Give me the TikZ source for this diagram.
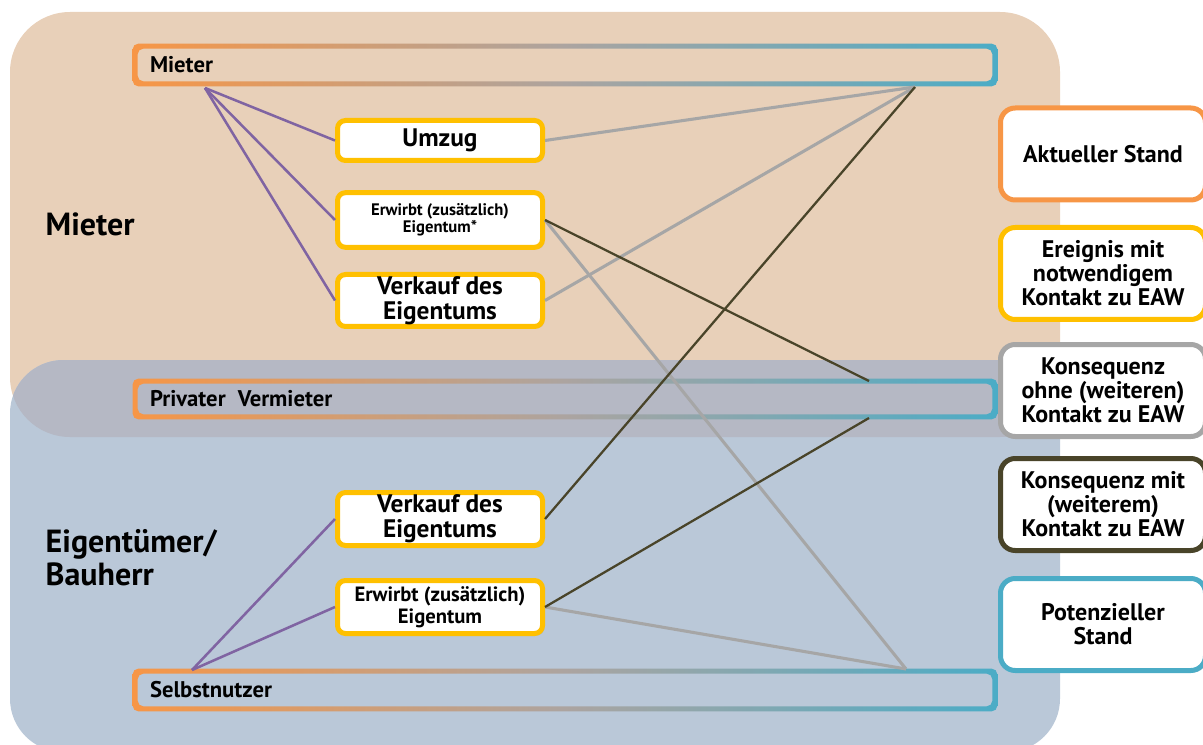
\documentclass[tikz,border=0pt]{standalone}
\usepackage{fontspec}
\setmainfont{PT Sans}
\usetikzlibrary{calc,shadows}

\definecolor{bgbeige}{RGB}{232,208,185}
\definecolor{bgblau}{RGB}{186,200,216}
\definecolor{bgmitte}{RGB}{181,184,196}
\definecolor{standorange}{RGB}{247,150,70}
\definecolor{standgrau}{RGB}{172,164,160}
\definecolor{standblau}{RGB}{75,172,198}
\definecolor{ereignisgelb}{RGB}{255,192,0}
\definecolor{ohnegrau}{RGB}{166,166,166}
\definecolor{mitoliv}{RGB}{73,68,41}
\definecolor{linielila}{RGB}{128,100,162}

\tikzset{
  ereignis/.style={draw=ereignisgelb, line width=3.75pt, fill=white, rounded corners=6pt,
    minimum width=153.75pt, align=center, inner sep=0pt,
    drop shadow={opacity=0.25, shadow xshift=1.5pt, shadow yshift=-1.5pt}},
  legende/.style={fill=white, line width=3.75pt, rounded corners=11pt,
    minimum width=153.75pt, minimum height=69pt, align=center, inner sep=0pt,
    font=\bfseries\fontsize{18}{18}\selectfont,
    drop shadow={opacity=0.25, shadow xshift=1.5pt, shadow yshift=-1.5pt}},
  band/.style={minimum width=648pt, text width=622.5pt, inner xsep=12.75pt, inner ysep=0pt,
    align=left, font=\bfseries\fontsize{17}{18}\selectfont},
  gruppe/.style={anchor=west, align=left, font=\bfseries\fontsize{24}{25}\selectfont},
  lila/.style={draw=linielila, line width=1.9pt},
  grau/.style={draw=ohnegrau, line width=2.3pt},
  oliv/.style={draw=mitoliv, line width=1.7pt}
}

\newcommand{\bandrahmen}[1]{%
  \shade[left color=standorange, right color=standblau, middle color=standgrau,
    even odd rule, rounded corners=4pt]
    (#1.north west) rectangle (#1.south east)
    ($(#1.north west)+(5,5)$) rectangle ($(#1.south east)+(-5,-5)$);}

\begin{document}
\begin{tikzpicture}[x=0.75pt,y=0.75pt,yscale=-1,xscale=1]
\useasboundingbox (0,0) rectangle (1203,745);

%Rounded Rect: Mieter
\fill [bgbeige, rounded corners=45pt] (10,12) rectangle (1060,437);
%Rounded Rect: Eigentuemer
\fill [bgblau, rounded corners=40pt] (10,360) rectangle (1060,752);
\begin{scope}
\clip [rounded corners=45pt] (10,12) rectangle (1060,437);
\fill [bgmitte, rounded corners=40pt] (10,360) rectangle (1060,752);
\end{scope}

% Text Node
\node [gruppe] (gmieter) at (41,224) {Mieter};
% Text Node
\node [gruppe] (geigen) at (41,558) {Eigentümer/\\Bauherr};

%Bands
\node [band, minimum height=31.5pt] (mieter) at (565,65) {Mieter};
\bandrahmen{mieter}
\node [band, minimum height=30pt] (vermieter) at (565,399) {Privater\hspace{0.2em} Vermieter};
\bandrahmen{vermieter}
\node [band, minimum height=31.5pt] (selbst) at (565,690) {Selbstnutzer};
\bandrahmen{selbst}

\coordinate (mieterL) at (205,88);
\coordinate (mieterR) at (915,87);
\coordinate (vermieterT) at (869,381);
\coordinate (vermieterB) at (869,418);
\coordinate (selbstL) at (192,670);
\coordinate (selbstR) at (906,669);

%Events
\node [ereignis, minimum height=30pt, font=\bfseries\fontsize{19}{19}\selectfont] (umzug) at (440,140.5) {Umzug};
\node [ereignis, minimum height=41pt, font=\bfseries\fontsize{12.5}{13}\selectfont] (erwirbtA) at (440,220) {Erwirbt (zusätzlich)\\Eigentum*};
\node [ereignis, minimum height=39pt, font=\bfseries\fontsize{19}{18.75}\selectfont] (verkaufA) at (440,300.5) {Verkauf des\\Eigentums};
\node [ereignis, minimum height=39.75pt, font=\bfseries\fontsize{19}{18.75}\selectfont] (verkaufB) at (440,519) {Verkauf des\\Eigentums};
\node [ereignis, minimum height=39.75pt, font=\bfseries\fontsize{15.5}{16.5}\selectfont] (erwirbtB) at (440,607) {Erwirbt (zusätzlich)\\Eigentum};

%Legend
\node [legende, draw=standorange] (aktuell) at (1103,154) {Aktueller Stand};
\node [legende, draw=ereignisgelb] (ereignis) at (1103,273.5) {Ereignis mit\\notwendigem\\Kontakt zu EAW};
\node [legende, draw=ohnegrau] (ohne) at (1103,390.5) {Konsequenz\\ohne (weiteren)\\Kontakt zu EAW};
\node [legende, draw=mitoliv] (mit) at (1103,504.5) {Konsequenz mit\\(weiterem)\\Kontakt zu EAW};
\node [legende, draw=standblau] (potenziell) at (1103,624.5) {Potenzieller\\Stand};

%Straight Lines
\draw [lila] (mieterL) -- (umzug.west);
\draw [lila] (mieterL) -- (erwirbtA.west);
\draw [lila] (mieterL) -- (verkaufA.west);
\draw [lila] (selbstL) -- (verkaufB.west);
\draw [lila] (selbstL) -- (erwirbtB.west);
%Straight Lines
\draw [grau] (umzug.east) -- (mieterR);
\draw [grau] (verkaufA.east) -- (mieterR);
\draw [grau] (erwirbtA.east) -- (selbstR);
\draw [grau] (erwirbtB.east) -- (selbstR);
%Straight Lines
\draw [oliv] (erwirbtA.east) -- (vermieterT);
\draw [oliv] (verkaufB.east) -- (mieterR);
\draw [oliv] (erwirbtB.east) -- (vermieterB);

\end{tikzpicture}
\end{document}
